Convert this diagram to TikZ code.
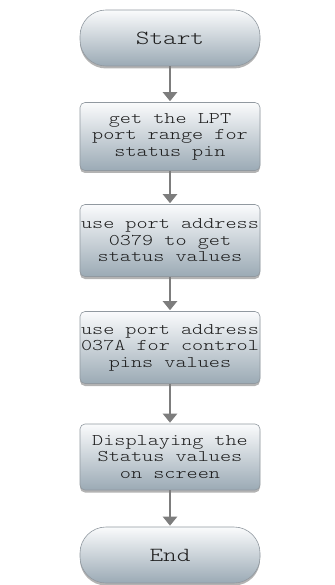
\documentclass[tikz,border=0pt]{standalone}
\usepackage{fontspec}
\newfontfamily\flowfont{lmmonolt10-regular.otf}[FakeStretch=1.3]
\usetikzlibrary{shadows,arrows.meta}

\definecolor{boxtop}{RGB}{250,251,252}
\definecolor{boxbottom}{RGB}{155,170,181}
\definecolor{boxline}{RGB}{145,153,160}
\definecolor{arrowgray}{RGB}{125,125,125}
\definecolor{textgray}{RGB}{30,30,30}

\tikzset{
  flowbase/.style={draw=boxline, line width=0.6pt,
    top color=boxtop, bottom color=boxbottom,
    drop shadow={opacity=0.6, shadow xshift=0pt, shadow yshift=-2.5pt},
    minimum width=180pt, align=center, inner sep=0pt, text=textgray,
    font=\flowfont\fontsize{16.3}{16.5}\selectfont},
  procbox/.style={flowbase, rounded corners=5pt},
  termbox/.style={flowbase, rounded corners=26pt, minimum height=56pt,
    font=\flowfont\fontsize{20}{20}\selectfont},
  flowarrow/.style={draw=arrowgray, line width=2.6pt,
    -{Triangle[length=9pt,width=14pt]}, shorten >=1pt}
}

\begin{document}
\begin{tikzpicture}[x=1pt,y=-1pt]
  \useasboundingbox (0,0) rectangle (334,585);

  \node[termbox] (start) at (170,38) {Start};
  \node[procbox, minimum height=68pt] (s1) at (170,136.5)
    {get the LPT\\port range for\\status pin};
  \node[procbox, minimum height=72pt] (s2) at (170,240.5)
    {use port address\\0379 to get\\status values};
  \node[procbox, minimum height=72pt] (s3) at (170,347.5)
    {use port address\\037A for control\\pins values};
  \node[procbox, minimum height=66pt] (s4) at (170,457)
    {Displaying the\\Status values\\on screen};
  \node[termbox] (end) at (170,555) {End};

  \draw[flowarrow] (start) -- (s1);
  \draw[flowarrow] (s1) -- (s2);
  \draw[flowarrow] (s2) -- (s3);
  \draw[flowarrow] (s3) -- (s4);
  \draw[flowarrow] (s4) -- (end);
\end{tikzpicture}
\end{document}
